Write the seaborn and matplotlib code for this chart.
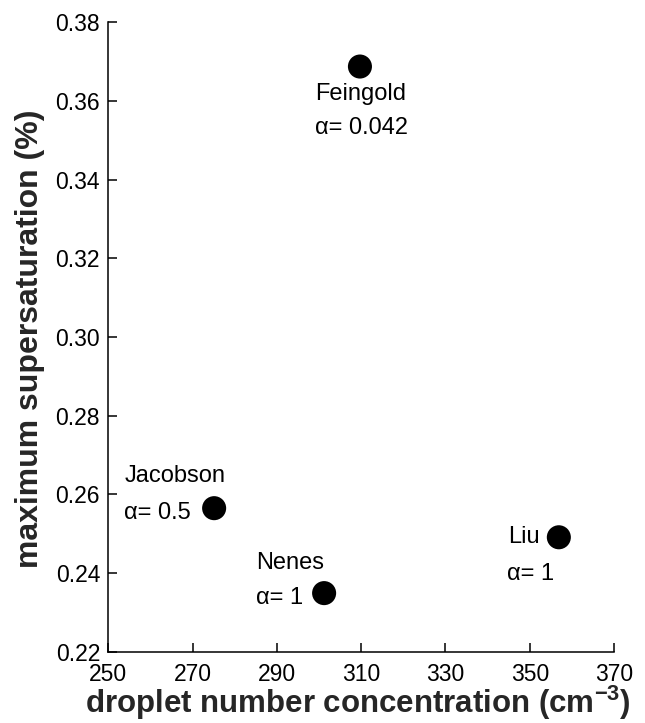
import pandas as pd
import matplotlib.pyplot as plt
import seaborn as sns

# Данные
schemes = ['Feingold', 'Jacobson', 'Nenes', 'Liu']
alphas = ['0.042', '0.5', '1', '1']
droplet_conc = [309.7, 275.1, 301.2, 356.9]
max_ss = [0.3688, 0.2565, 0.2349, 0.2491]

x_ticks = [250, 270, 290, 310, 330, 350, 370]
y_ticks = [0.22, 0.24, 0.26, 0.28, 0.30, 0.32, 0.34, 0.36, 0.38]

# смещения подписей (пиксели) относительно точки: (имя, альфа)
label_offsets = {
    'Feingold': ((-45, -27), (-45, -61)),
    'Jacobson': ((-90, 32), (-90, -5)),
    'Nenes': ((-68, 30), (-68, -5)),
    'Liu': ((-51, 0), (-52, -37)),
}

df = pd.DataFrame({'scheme': schemes, 'alpha': alphas,
                   'conc': droplet_conc, 'ss': max_ss})

sns.set_theme(style="ticks")
plt.rcParams['font.family'] = ['Liberation Sans', 'DejaVu Sans']
plt.rcParams['mathtext.fontset'] = 'custom'
plt.rcParams['mathtext.rm'] = 'Liberation Sans'
plt.rcParams['mathtext.bf'] = 'Liberation Sans:bold'
plt.rcParams['xtick.direction'] = 'in'
plt.rcParams['ytick.direction'] = 'in'

fig = plt.figure(figsize=(6.45, 7.23), dpi=100)
ax = fig.add_axes([0.168, 0.0986, 0.784, 0.8703])

sns.scatterplot(data=df, x='conc', y='ss', color='black', s=300,
                edgecolor='none', ax=ax, legend=False, zorder=3)

for _, row in df.iterrows():
    off_name, off_alpha = label_offsets[row['scheme']]
    ax.annotate(row['scheme'], (row['conc'], row['ss']), xytext=off_name,
                textcoords='offset pixels', ha='left', va='center',
                fontsize=17, color='black')
    ax.annotate('α= ' + row['alpha'], (row['conc'], row['ss']), xytext=off_alpha,
                textcoords='offset pixels', ha='left', va='center',
                fontsize=17, color='black')

ax.set_xlim(250, 370)
ax.set_ylim(0.22, 0.38)
ax.set_xticks(x_ticks)
ax.set_yticks(y_ticks)
ax.set_xticklabels([str(t) for t in x_ticks])
ax.set_yticklabels([f'{t:.2f}' for t in y_ticks])
ax.tick_params(axis='both', labelsize=16.5, length=6.5, width=1.1,
               color='black', labelcolor='black')
ax.tick_params(axis='x', pad=8)
ax.tick_params(axis='y', pad=6)

for side in ['top', 'right']:
    ax.spines[side].set_visible(False)
for side in ['left', 'bottom']:
    ax.spines[side].set_linewidth(1.1)
    ax.spines[side].set_color('black')

ax.set_xlabel('droplet number concentration (cm$^{\\mathbf{-3}}$)',
              fontsize=22.5, fontweight='bold')
ax.set_ylabel('maximum supersaturation (%)', fontsize=23,
              fontweight='bold')
ax.xaxis.set_label_coords(0.494, -0.051)
ax.yaxis.set_label_coords(-0.125, 0.497)

fig.savefig('out.png', dpi=100)
plt.close(fig)
